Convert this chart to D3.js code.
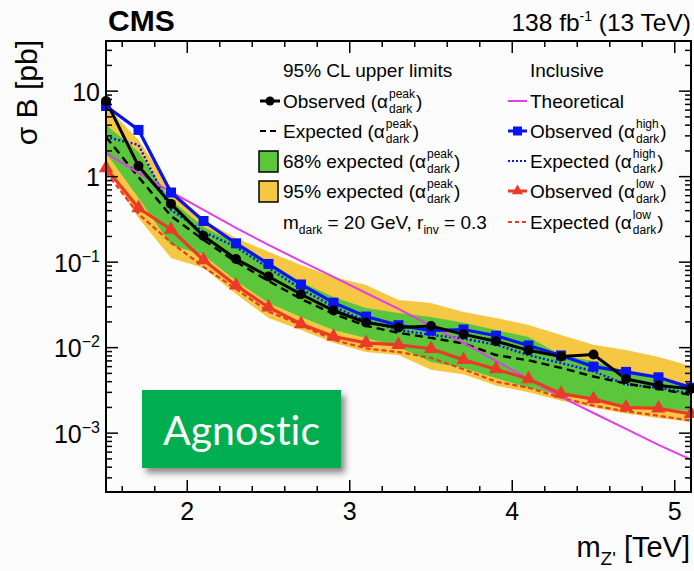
<!DOCTYPE html>
<html>
<head>
<meta charset="utf-8">
<script src="https://cdn.jsdelivr.net/npm/d3@7"></script>
<style>
  html, body { margin: 0; padding: 0; background: #fcfcfc; }
  svg { display: block; font-family: "Liberation Sans", Arial, Helvetica, sans-serif; }
</style>
</head>
<body>
<svg id="chart" width="694" height="571"></svg>
<script>
// Z' mass points [TeV]
const massTeV = [1.5, 1.7, 1.9, 2.1, 2.3, 2.5, 2.7, 2.9, 3.1, 3.3, 3.5, 3.7, 3.9, 4.1, 4.3, 4.5, 4.7, 4.9, 5.1];

// 95% CL upper limits on sigma*B [pb]
const obsPeak  = [7.68, 1.33, 0.48, 0.202, 0.109, 0.068, 0.0421, 0.0272, 0.0197, 0.0172, 0.0179, 0.0143, 0.0119, 0.0093, 0.0079, 0.0083, 0.0043, 0.0036, 0.0033];
const expPeak  = [2.91, 0.99, 0.347, 0.182, 0.1005, 0.0603, 0.0371, 0.0248, 0.018, 0.0149, 0.013, 0.0112, 0.0082, 0.0071, 0.0058, 0.0046, 0.0038, 0.0033, 0.0028];
const band68Up = [4.03, 1.95, 0.534, 0.258, 0.168, 0.1005, 0.0587, 0.0392, 0.0291, 0.0255, 0.0229, 0.0195, 0.0161, 0.0133, 0.0082, 0.0070, 0.0052, 0.0042, 0.0037];
const band68Dn = [1.89, 0.564, 0.159, 0.121, 0.0603, 0.0333, 0.0229, 0.0161, 0.013, 0.0102, 0.0068, 0.0058, 0.0044, 0.0034, 0.0028, 0.0025, 0.0021, 0.0020, 0.0018];
const band95Up = [6.71, 2.69, 0.738, 0.312, 0.192, 0.132, 0.0927, 0.0671, 0.0541, 0.0361, 0.0333, 0.0262, 0.0222, 0.0184, 0.0141, 0.0108, 0.0094, 0.0078, 0.0061];
const band95Dn = [1.26, 0.329, 0.112, 0.0855, 0.0425, 0.0222, 0.0161, 0.0114, 0.0089, 0.0082, 0.0055, 0.0049, 0.0036, 0.0030, 0.0024, 0.0020, 0.0017, 0.0015, 0.00135];
const obsHigh  = [6.71, 3.52, 0.653, 0.303, 0.166, 0.0953, 0.0548, 0.0336, 0.0231, 0.0183, 0.0158, 0.0163, 0.0138, 0.0106, 0.0081, 0.0060, 0.0052, 0.0045, 0.0034];
const expHigh  = [2.91, 2.35, 0.408, 0.226, 0.151, 0.0855, 0.0486, 0.0302, 0.0205, 0.0161, 0.0141, 0.0128, 0.0108, 0.0082, 0.0066, 0.0053, 0.0037, 0.0034, 0.0029];
const obsLow   = [1.26, 0.43, 0.241, 0.106, 0.0534, 0.0297, 0.0189, 0.0135, 0.0114, 0.0108, 0.0097, 0.0072, 0.0056, 0.0043, 0.0029, 0.0025, 0.0020, 0.00195, 0.00168];
const expLow   = [1.135, 0.366, 0.170, 0.088, 0.0486, 0.0264, 0.0184, 0.0123, 0.0098, 0.0089, 0.0076, 0.0056, 0.0040, 0.0034, 0.0026, 0.0021, 0.0018, 0.0016, 0.0014];
// theoretical cross section [pb]
const theory   = [1.89, 1.105, 0.662, 0.408, 0.251, 0.159, 0.103, 0.0671, 0.0436, 0.0284, 0.018, 0.0114, 0.0070, 0.0043, 0.00265, 0.00172, 0.00112, 0.00073, 0.00049];

// axis ticks
const xTickValues = [2, 3, 4, 5];
const xTickLabels = ["2", "3", "4", "5"];
const yTickValues = [1e-3, 1e-2, 1e-1, 1, 10];
const yTickLabels = [["10", "\u22123"], ["10", "\u22122"], ["10", "\u22121"], ["1", ""], ["10", ""]];

const col = {
  green: "#5bc63b", yellow: "#f5c743", black: "#000000",
  blue: "#0a14f0", red: "#ea3a28", magenta: "#e23ee6"
};

const svg = d3.select("#chart");
const W = 694, H = 571;
const L = 106, R = 691, T = 41, B = 492;

svg.append("rect").attr("width", W).attr("height", H).attr("fill", "#fcfcfc");

const x = d3.scaleLinear().domain([1.5, 5.1]).range([L, R]);
const y = d3.scaleLog().domain([2.05e-4, 38.6]).range([B, T]);

const defs = svg.append("defs");
defs.append("clipPath").attr("id", "plotclip")
  .append("rect").attr("x", L).attr("y", T).attr("width", R - L).attr("height", B - T);
const shadow = defs.append("filter").attr("id", "boxshadow")
  .attr("x", "-10%").attr("y", "-10%").attr("width", "130%").attr("height", "140%");
shadow.append("feDropShadow").attr("dx", 4).attr("dy", 5).attr("stdDeviation", 3)
  .attr("flood-color", "#000").attr("flood-opacity", 0.45);

const rows = massTeV.map((m, i) => ({
  m, obsPeak: obsPeak[i], expPeak: expPeak[i],
  u68: band68Up[i], d68: band68Dn[i], u95: band95Up[i], d95: band95Dn[i],
  obsHigh: obsHigh[i], expHigh: expHigh[i], obsLow: obsLow[i], expLow: expLow[i],
  theory: theory[i]
}));

const plot = svg.append("g").attr("clip-path", "url(#plotclip)");

// expected bands
const area = (lo, hi) => d3.area().x(d => x(d.m)).y0(d => y(d[lo])).y1(d => y(d[hi]));
plot.append("path").datum(rows).attr("d", area("d95", "u95")).attr("fill", col.yellow);
plot.append("path").datum(rows).attr("d", area("d68", "u68")).attr("fill", col.green);

const line = key => d3.line().x(d => x(d.m)).y(d => y(d[key]));

// expected limits
plot.append("path").datum(rows).attr("d", line("expLow")).attr("fill", "none")
  .attr("stroke", col.red).attr("stroke-width", 2.2).attr("stroke-dasharray", "5,3");
plot.append("path").datum(rows).attr("d", line("expHigh")).attr("fill", "none")
  .attr("stroke", col.blue).attr("stroke-width", 2.4).attr("stroke-dasharray", "2,2.2");
plot.append("path").datum(rows).attr("d", line("expPeak")).attr("fill", "none")
  .attr("stroke", col.black).attr("stroke-width", 2.4).attr("stroke-dasharray", "8,5");

// theory
plot.append("path").datum(rows).attr("d", line("theory")).attr("fill", "none")
  .attr("stroke", col.magenta).attr("stroke-width", 2);

// observed limits
plot.append("path").datum(rows).attr("d", line("obsLow")).attr("fill", "none")
  .attr("stroke", col.red).attr("stroke-width", 3.2);
plot.append("path").datum(rows).attr("d", line("obsHigh")).attr("fill", "none")
  .attr("stroke", col.blue).attr("stroke-width", 3.2);
plot.append("path").datum(rows).attr("d", line("obsPeak")).attr("fill", "none")
  .attr("stroke", col.black).attr("stroke-width", 3);

const markers = svg.append("g");
const tri = d3.symbol().type(d3.symbolTriangle).size(90);
markers.selectAll("path.tri").data(rows).join("path").attr("class", "tri")
  .attr("d", tri).attr("transform", d => `translate(${x(d.m)},${y(d.obsLow)})`).attr("fill", col.red);
markers.selectAll("rect.sq").data(rows).join("rect").attr("class", "sq")
  .attr("x", d => x(d.m) - 5).attr("y", d => y(d.obsHigh) - 5).attr("width", 10).attr("height", 10)
  .attr("fill", col.blue);
markers.selectAll("circle.dot").data(rows).join("circle").attr("class", "dot")
  .attr("cx", d => x(d.m)).attr("cy", d => y(d.obsPeak)).attr("r", 5).attr("fill", col.black);

// axes frame and ticks (inward, on all four sides)
const axes = svg.append("g").attr("stroke", "#000").attr("stroke-width", 1.5);
const xMinor = d3.range(16, 52, 2).map(v => v / 10).filter(v => !xTickValues.includes(v));
xTickValues.forEach(v => {
  axes.append("line").attr("x1", x(v)).attr("x2", x(v)).attr("y1", B).attr("y2", B - 12);
  axes.append("line").attr("x1", x(v)).attr("x2", x(v)).attr("y1", T).attr("y2", T + 12);
});
xMinor.forEach(v => {
  axes.append("line").attr("x1", x(v)).attr("x2", x(v)).attr("y1", B).attr("y2", B - 6);
  axes.append("line").attr("x1", x(v)).attr("x2", x(v)).attr("y1", T).attr("y2", T + 6);
});
const yMinor = [];
[1e-4, 1e-3, 1e-2, 1e-1, 1, 10].forEach(dec => {
  for (let k = 2; k <= 9; k++) {
    const v = dec * k;
    if (v >= 2.05e-4 && v <= 38.6) yMinor.push(v);
  }
});
yTickValues.forEach(v => {
  axes.append("line").attr("x1", L).attr("x2", L + 12).attr("y1", y(v)).attr("y2", y(v));
  axes.append("line").attr("x1", R).attr("x2", R - 12).attr("y1", y(v)).attr("y2", y(v));
});
yMinor.forEach(v => {
  axes.append("line").attr("x1", L).attr("x2", L + 6).attr("y1", y(v)).attr("y2", y(v));
  axes.append("line").attr("x1", R).attr("x2", R - 6).attr("y1", y(v)).attr("y2", y(v));
});
svg.append("rect").attr("x", L).attr("y", T).attr("width", R - L).attr("height", B - T)
  .attr("fill", "none").attr("stroke", "#000").attr("stroke-width", 2);

// tick labels
const tickLab = svg.append("g").attr("fill", "#000");
xTickValues.forEach((v, i) => {
  tickLab.append("text").attr("x", x(v)).attr("y", 520).attr("text-anchor", "middle")
    .attr("font-size", 25).text(xTickLabels[i]);
});
yTickValues.forEach((v, i) => {
  const t = tickLab.append("text").attr("x", 100).attr("y", y(v) + 9.5)
    .attr("text-anchor", "end").attr("font-size", 25);
  t.append("tspan").text(yTickLabels[i][0]);
  if (yTickLabels[i][1]) {
    t.append("tspan").attr("dy", -10).attr("font-size", 16).text(yTickLabels[i][1]);
  }
});

// axis titles
const xt = svg.append("text").attr("x", 690).attr("y", 557).attr("text-anchor", "end").attr("font-size", 29);
xt.append("tspan").text("m");
xt.append("tspan").attr("dy", 8).attr("font-size", 19).text("Z'");
xt.append("tspan").attr("dy", -8).text(" [TeV]");

svg.append("text").attr("transform", "translate(37,40) rotate(-90)")
  .attr("text-anchor", "end").attr("font-size", 30).text("\u03c3 B [pb]");

// header
svg.append("text").attr("x", 108).attr("y", 31).attr("font-size", 30).attr("font-weight", "bold").text("CMS");
const lumi = svg.append("text").attr("x", 691).attr("y", 31).attr("text-anchor", "end").attr("font-size", 24.5);
lumi.append("tspan").text("138 fb");
lumi.append("tspan").attr("dy", -10).attr("font-size", 14).text("-1");
lumi.append("tspan").attr("dy", 10).text(" (13 TeV)");

// legend
const leg = svg.append("g").attr("font-size", 19);
leg.append("text").attr("x", 283).attr("y", 77).text("95% CL upper limits");
leg.append("text").attr("x", 530).attr("y", 77).text("Inclusive");

function alphaEntry(xp, yp, prefix, sup, sub) {
  const t = leg.append("text").attr("x", xp).attr("y", yp).text(prefix + " (\u03b1");
  const w = t.node().getComputedTextLength();
  const sx = xp + w + 1;
  const a = leg.append("text").attr("x", sx).attr("y", yp - 10).attr("font-size", 12).text(sup);
  const b = leg.append("text").attr("x", sx).attr("y", yp + 5).attr("font-size", 12).text(sub);
  const w2 = Math.max(a.node().getComputedTextLength(), b.node().getComputedTextLength());
  leg.append("text").attr("x", sx + w2 + 1).attr("y", yp).text(")");
}

const rowY = [101, 131, 161, 191, 222];
// left column symbols
leg.append("line").attr("x1", 260).attr("x2", 280).attr("y1", rowY[0]).attr("y2", rowY[0])
  .attr("stroke", col.black).attr("stroke-width", 3);
leg.append("circle").attr("cx", 270).attr("cy", rowY[0]).attr("r", 4.5).attr("fill", col.black);
leg.append("line").attr("x1", 260).attr("x2", 280).attr("y1", rowY[1]).attr("y2", rowY[1])
  .attr("stroke", col.black).attr("stroke-width", 2.2).attr("stroke-dasharray", "6,4");
leg.append("rect").attr("x", 259).attr("y", 151).attr("width", 19).attr("height", 21)
  .attr("fill", col.green).attr("stroke", "#000").attr("stroke-width", 1.5);
leg.append("rect").attr("x", 259).attr("y", 181).attr("width", 19).attr("height", 21)
  .attr("fill", col.yellow).attr("stroke", "#000").attr("stroke-width", 1.5);

alphaEntry(283, rowY[0] + 7, "Observed", "peak", "dark");
alphaEntry(283, rowY[1] + 7, "Expected", "peak", "dark");
alphaEntry(283, rowY[2] + 7, "68% expected", "peak", "dark");
alphaEntry(283, rowY[3] + 7, "95% expected", "peak", "dark");

const md = leg.append("text").attr("x", 283).attr("y", 229);
md.append("tspan").text("m");
md.append("tspan").attr("dy", 5).attr("font-size", 12).text("dark");
md.append("tspan").attr("dy", -5).text(" = 20 GeV, r");
md.append("tspan").attr("dy", 5).attr("font-size", 12).text("inv");
md.append("tspan").attr("dy", -5).text(" = 0.3");

// right column symbols
leg.append("line").attr("x1", 508).attr("x2", 527).attr("y1", rowY[0]).attr("y2", rowY[0])
  .attr("stroke", col.magenta).attr("stroke-width", 2);
leg.append("line").attr("x1", 508).attr("x2", 527).attr("y1", rowY[1]).attr("y2", rowY[1])
  .attr("stroke", col.blue).attr("stroke-width", 3);
leg.append("rect").attr("x", 513).attr("y", rowY[1] - 4.5).attr("width", 9).attr("height", 9).attr("fill", col.blue);
leg.append("line").attr("x1", 508).attr("x2", 527).attr("y1", rowY[2]).attr("y2", rowY[2])
  .attr("stroke", col.blue).attr("stroke-width", 2).attr("stroke-dasharray", "2,2");
leg.append("line").attr("x1", 508).attr("x2", 527).attr("y1", rowY[3]).attr("y2", rowY[3])
  .attr("stroke", col.red).attr("stroke-width", 3);
leg.append("path").attr("d", d3.symbol().type(d3.symbolTriangle).size(55))
  .attr("transform", `translate(517.5,${rowY[3]})`).attr("fill", col.red);
leg.append("line").attr("x1", 508).attr("x2", 527).attr("y1", rowY[4]).attr("y2", rowY[4])
  .attr("stroke", col.red).attr("stroke-width", 2).attr("stroke-dasharray", "4,3");

leg.append("text").attr("x", 530).attr("y", rowY[0] + 7).text("Theoretical");
alphaEntry(530, rowY[1] + 7, "Observed", "high", "dark");
alphaEntry(530, rowY[2] + 7, "Expected", "high", "dark");
alphaEntry(530, rowY[3] + 7, "Observed", "low", "dark");
alphaEntry(530, rowY[4] + 7, "Expected", "low", "dark");

// category tag
const tag = svg.append("g");
tag.append("rect").attr("x", 142).attr("y", 390).attr("width", 199).attr("height", 78)
  .attr("fill", "#00ad4f").attr("filter", "url(#boxshadow)");
tag.append("text").attr("x", 241.5).attr("y", 445).attr("text-anchor", "middle")
  .attr("font-family", "Lato, 'Open Sans', sans-serif").attr("font-size", 41)
  .style("font-variant-ligatures", "none").style("font-feature-settings", "'liga' 0, 'dlig' 0")
  .attr("fill", "#ffffff").text("Agnostic");
</script>
</body>
</html>
